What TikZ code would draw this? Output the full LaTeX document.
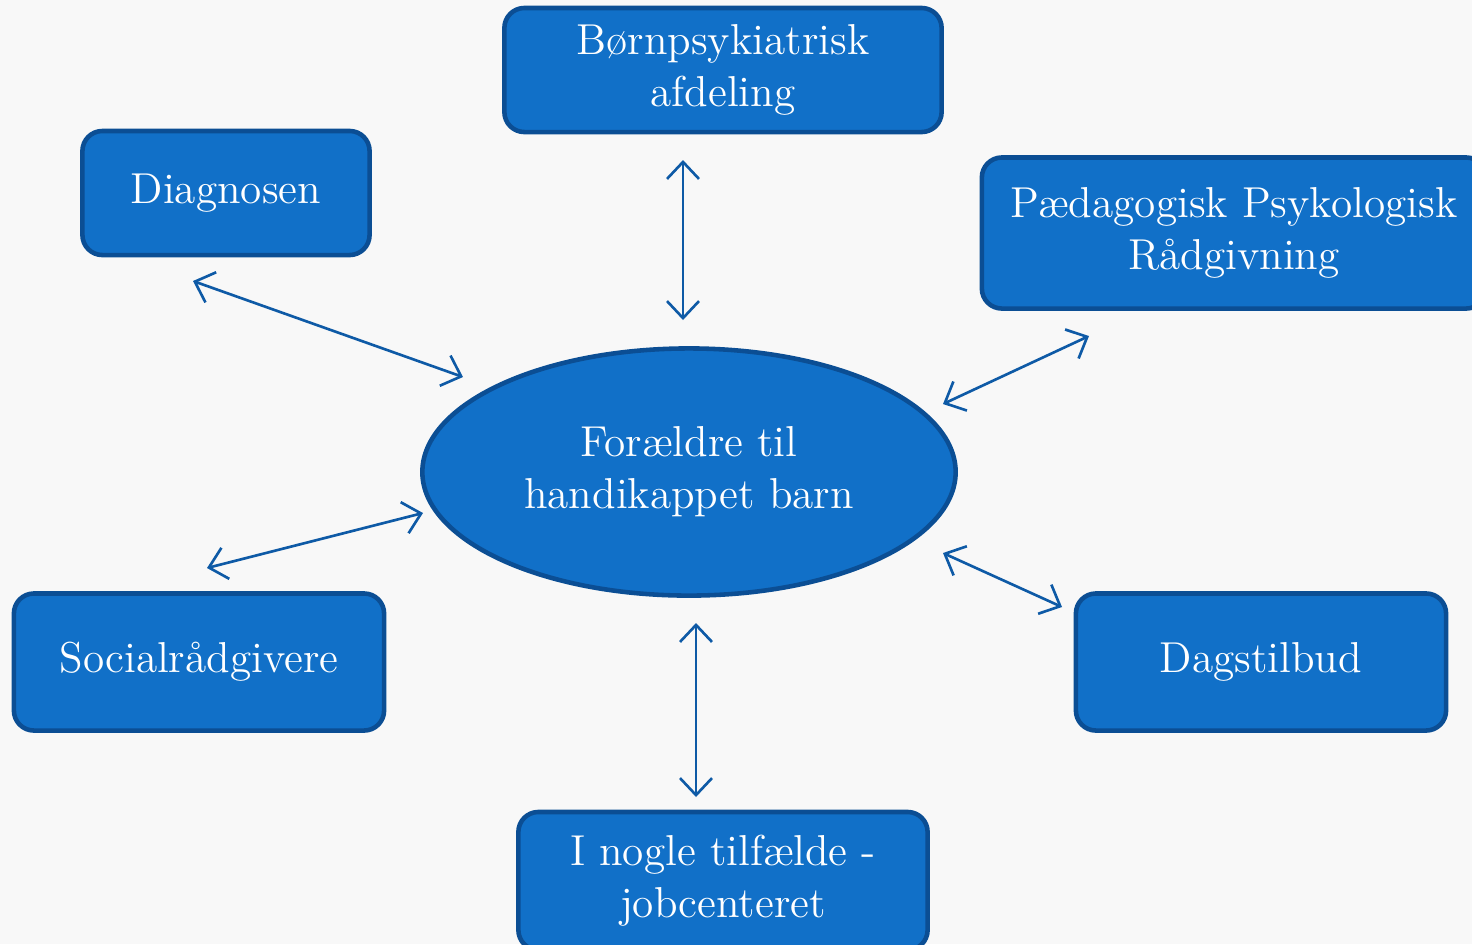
\documentclass[tikz,border=0pt]{standalone}
\usepackage{tikz}
\usetikzlibrary{arrows.meta,shapes.geometric}

\definecolor{boxfill}{HTML}{1170C8}
\definecolor{boxline}{HTML}{0B4E94}
\definecolor{arrowcol}{HTML}{0E5AA6}
\definecolor{bgcol}{HTML}{F8F8F8}

\begin{document}
\begin{tikzpicture}[x=0.01cm,y=-0.01cm,
  box/.style={draw=boxline,line width=1.3pt,fill=boxfill,rounded corners=0.2cm,
    text=white,align=center,inner sep=0pt,font=\fontsize{12.3}{14.8}\selectfont},
  link/.style={arrowcol,line width=0.75pt,
    {Straight Barb[length=1.7mm,width=3.2mm]}-{Straight Barb[length=1.7mm,width=3.2mm]}}]
  \clip (0,0) rectangle (1472,944);
  \fill[bgcol] (0,0) rectangle (1472,944);

  % centre
  \node[box,ellipse,rounded corners=0pt,minimum width=5.33cm,minimum height=2.47cm]
    (parents) at (689,472) {Forældre til\\handikappet barn};

  % boxes round it
  \node[box,minimum width=4.37cm,minimum height=1.24cm] (bup) at (723,70)
    {Børnpsykiatrisk\\afdeling};
  \node[box,minimum width=2.87cm,minimum height=1.24cm] (diag) at (226,193)
    {Diagnosen};
  \node[box,minimum width=5.04cm,minimum height=1.51cm] (ppr) at (1234,233)
    {Pædagogisk Psykologisk\\Rådgivning};
  \node[box,minimum width=3.70cm,minimum height=1.37cm] (social) at (199,662)
    {Socialrådgivere};
  \node[box,minimum width=3.70cm,minimum height=1.37cm] (dag) at (1261,662)
    {Dagstilbud};
  \node[box,minimum width=4.09cm,minimum height=1.38cm] (job) at (723,881)
    {I nogle tilfælde -\\jobcenteret};

  % arrow ends
  \coordinate (d1) at (193,281);
  \coordinate (d2) at (463,377);
  \coordinate (b1) at (683,160);
  \coordinate (b2) at (683,320);
  \coordinate (p1) at (1089,336);
  \coordinate (p2) at (943,404);
  \coordinate (s1) at (207,568);
  \coordinate (s2) at (423,513);
  \coordinate (g1) at (943,553);
  \coordinate (g2) at (1062,607);
  \coordinate (j1) at (696,623);
  \coordinate (j2) at (696,797);

  \draw[link] (d1) -- (d2);
  \draw[link] (b1) -- (b2);
  \draw[link] (p1) -- (p2);
  \draw[link] (s1) -- (s2);
  \draw[link] (g1) -- (g2);
  \draw[link] (j1) -- (j2);
\end{tikzpicture}
\end{document}
